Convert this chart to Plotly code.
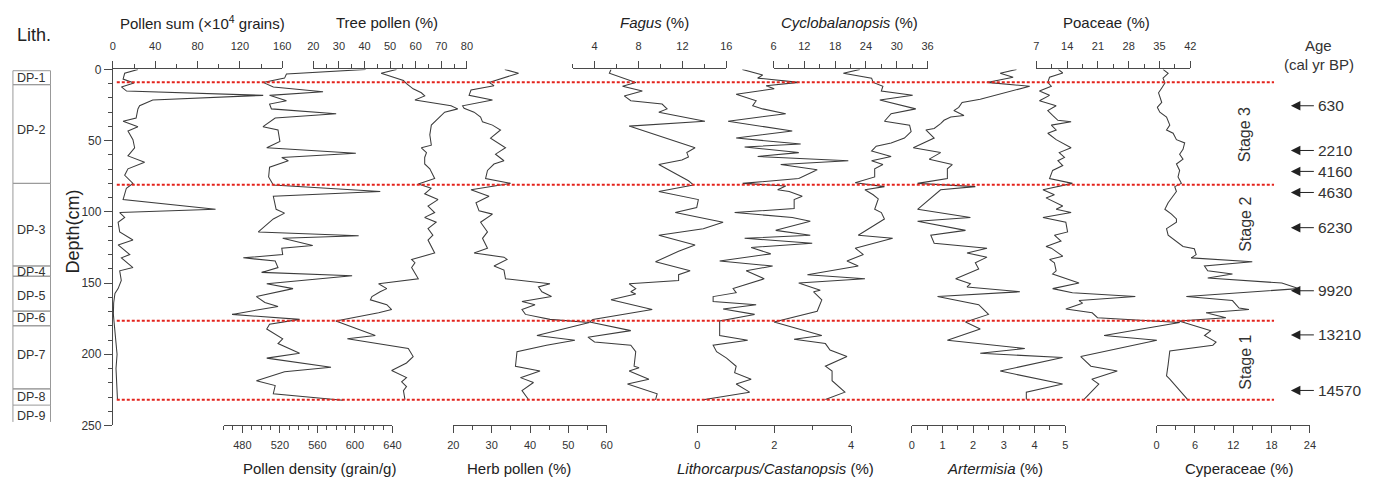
import plotly.graph_objects as go

# ---------------- data ----------------
ps_depth = [0, 2.7, 6.8, 9.5, 12.3, 15.2, 18.2, 21.4, 25.5, 27.7, 34.1, 36.4, 40.2, 43.2, 49.3, 55, 60.7, 65.2,
            69.8, 74.3, 80, 83.4, 91.4, 98.2, 100.5, 103.9, 107.3, 114.1, 119.8, 123.2, 130, 132.3, 139.1, 141.4,
            148.2, 153.9, 157.3, 164, 172, 180, 190, 200, 210, 220, 232]
ps_val = [23.7, 11.2, 9.7, 20, 8.1, 13, 142, 37.7, 25.3, 23.7, 22, 9.7, 23.7, 14.3, 19, 20.6, 14.3, 30,
          14.3, 11.2, 19, 12.8, 9.7, 97, 6.5, 11.2, 5, 6.5, 19, 5, 16, 8.1, 19, 6.5,
          8, 5, 2, 0.8, 0.5, 1.5, 2.5, 4, 3, 3.5, 4.4]

pd_depth = [0, 3.2, 6.1, 9.1, 12.3, 15.7, 18.2, 22, 24.3, 27.7, 31.1, 34.1, 40.2, 42.5, 50.5, 55, 58.9, 61.8,
            64.1, 68.6, 75.5, 81.1, 85.7, 89.1, 98.2, 100.9, 105, 114.1, 116.8, 118.6, 123.6, 125.5, 130,
            132.3, 134.5, 139.1, 142.5, 144.8, 150.5, 153.9, 159.5, 163.6, 166.4, 172, 175.5, 178.9, 182.3,
            189.1, 192.5, 199.3, 202.7, 209.1, 212.3, 218.6, 222, 227.7, 232.3]
pd_val = [611.5, 527, 525, 502, 513, 566, 509, 527, 509, 511, 580, 515, 502, 518, 520, 506, 601, 522,
          529, 509, 508, 513, 627, 513, 516, 525, 513, 497, 604, 523, 555, 522, 523,
          481, 515, 518, 500.5, 597, 506, 534, 495, 504, 518, 469, 541, 509, 506,
          523, 518, 541, 506, 574.5, 525, 495, 515, 513, 587]

tree_depth = [0, 2.7, 7.7, 10, 13.6, 16.4, 18.6, 21.4, 25.5, 27.7, 30, 34.5, 39.1, 45.9, 53.2, 55, 58.4, 61.8,
              66.4, 69.8, 76.6, 80.5, 83.4, 87.3, 91.4, 95.9, 100.5, 103.9, 107.3, 111.8, 116.4, 119.8, 124.3,
              128.9, 133.4, 135.7, 139.1, 143.6, 147, 150.5, 153.9, 156.1, 159.5, 161.8, 165.2, 168.6, 170.9,
              176.6, 186.8, 189.1, 195.9, 201.6, 206.1, 211.4, 216.4, 219.3, 222.7, 225.5, 231.8]
tree_val = [52.5, 46.5, 55.2, 56.4, 59, 62.2, 63.5, 59.7, 73.8, 76.4, 71.3, 68.7, 66.1, 65.5, 66.1, 62.2, 64.2, 63.5,
            63.5, 65.5, 67.4, 61, 66.1, 63.5, 68.7, 64.8, 67.4, 63.5, 68, 64.8, 66.7, 64.8, 66.1,
            67.4, 58.4, 59.7, 58.4, 59.7, 61, 45.5, 48.7, 46.1, 42.9, 42.3, 48.7, 50.6, 45.5,
            28.8, 44.2, 33.3, 57.1, 59, 56.4, 50.6, 56.4, 54.5, 56.4, 55.2, 55.8]

herb_depth = [0, 2.7, 9.1, 11.4, 14.5, 18.2, 21.4, 25.5, 27.3, 30, 33.4, 36.8, 39.1, 42.5, 48.2, 55, 59.5, 64.1,
              66.4, 70.9, 76.6, 80, 84.5, 89.1, 93.6, 99.3, 101.6, 107.3, 114.1, 118.6, 125.5, 128.9, 131.8,
              133.4, 138, 140.9, 147, 150.5, 152.7, 156.1, 159.5, 163, 165.2, 168.6, 172, 175.5, 177.7, 186.8,
              190.2, 193.6, 198.2, 208.4, 211.8, 216.4, 219.8, 225.5, 231.8]
herb_val = [33.4, 37, 29.3, 30.6, 24.6, 24.1, 30.2, 22.4, 22.8, 25.4, 27.1, 27.6, 30.2, 32.3, 29.7, 33.6, 31, 33.2,
            30.6, 28.9, 28.4, 34.9, 24.6, 29.3, 25.9, 26.7, 30.2, 27.1, 28.9, 27.6, 28.9, 25.4, 33.2,
            34, 30.6, 33.2, 33.6, 45.2, 42.2, 43.1, 45.6, 37.9, 41.3, 37.9, 38.8, 45.2, 55.5, 41.8,
            51.7, 44.3, 36.6, 36.2, 42.6, 37.5, 40.9, 37.9, 39.6]

fagus_depth = [0, 2.7, 9.1, 11.8, 15.2, 18.6, 22, 24.3, 27.7, 30, 36.4, 39.8, 55, 58.4, 61.4, 63.6, 66.8, 78.2,
               81.1, 85.7, 91.4, 97, 100.5, 107.3, 111.8, 116.4, 123.2, 127.7, 135, 141.4, 144.1, 148.2, 150.5,
               153.9, 156.1, 157.7, 161.8, 168.6, 175.5, 177.3, 183.4, 188, 191.4, 193.6, 198.2, 208.4, 209.5,
               211.8, 217.5, 220.9, 227.7, 232]
fagus_val = [5.5, 5.35, 7.75, 6.55, 8.35, 6.7, 7.3, 10.15, 10.6, 9.85, 14.05, 7.15, 13.15, 12.4, 12.55, 11.95, 9.85,
             12.55, 13, 9.85, 13.45, 13.3, 11.35, 15.7, 13.9, 9.85, 13.15, 11.65, 9.55, 12.7, 11.65, 11.65, 7.15,
             7.75, 7.3, 7.75, 5.5, 9.25, 3.85, 3.55, 7.3, 3.4, 4.0, 7.3, 7.75, 7.6, 8.05,
             7.15, 8.95, 7.0, 9.7, 9.55]

lith_depth = [0, 3.9, 6.1, 9.1, 11.4, 13.6, 17.5, 22, 25.5, 27.7, 31.1, 36.4, 43.2, 48.2, 52.3, 54.5, 58.4, 61.1,
              64.1, 66.8, 70.5, 76.6, 80, 81.8, 84.5, 85.7, 89.1, 91.4, 97.7, 100.5, 103.9, 106.6, 113, 116.4,
              118.6, 122, 125, 128.4, 129.5, 134.5, 138, 141.4, 144.8, 147, 153.9, 156.8, 159.5, 163, 165.2,
              168.2, 172, 176.6, 186.8, 190.2, 193.6, 198.2, 202.7, 208.4, 212.9, 217.5, 220.9, 226.6, 232]
lith_val = [1.17, 1.7, 1.57, 2.64, 1.79, 2.0, 1.01, 1.53, 1.44, 1.7, 2.3, 0.8, 2.47, 1.01, 2.69, 1.23, 2.64, 1.57,
            3.93, 2.17, 3.12, 2.64, 1.18, 2.3, 2.09, 2.39, 2.73, 2.52, 2.52, 0.97, 2.47, 2.94, 2.04, 2.94,
            1.23, 2.99, 1.4, 1.83, 1.91, 0.58, 1.96, 1.27, 1.57, 1.74, 0.93, 1.01, 0.41, 0.41, 1.53,
            0.67, 1.49, 0.58, 0.58, 1.31, 0.41, 0.5, 0.76, 1.01, 0.97, 1.4, 1.01, 1.36, 0.15]

cyclo_depth = [0, 2.7, 6.1, 9.1, 11.8, 15.2, 18.2, 21.4, 27.7, 31.1, 36.4, 39.1, 43.6, 48.2, 51.6, 53.9, 57.3, 61.1,
               64.1, 66.8, 69.8, 75.5, 79.5, 82.3, 84.5, 88, 90.9, 98.2, 100.5, 105, 116.4, 118.6, 125.5, 130,
               134.5, 138, 144.1, 147, 150, 155, 156.1, 161.8, 169.8, 177.3, 186.8, 189.5, 192.5, 197, 201.6,
               208.4, 211.8, 218.6, 226.6, 231.8]
cyclo_val = [22.8, 19.6, 25.1, 25.4, 27.3, 27, 33.1, 26.7, 33.7, 28.9, 27.6, 32.5, 32.8, 31.5, 28.9, 26, 25.1, 28.9,
             25.1, 27.3, 25.7, 25.7, 21.9, 27.6, 23.8, 25.4, 26.4, 25.7, 27, 27.6, 22.5, 29.2, 21.9, 23.5,
             20.3, 22.5, 12.6, 23.8, 10.9, 15.1, 13.8, 15.4, 14.5, 6.1, 15.4, 10, 16.1, 17, 20.3,
             16.1, 17.4, 17.4, 19.9, 16.1]

art_depth = [0, 2.7, 5.5, 9.1, 11.8, 20.9, 23.2, 26.6, 28.9, 32.3, 33.4, 35.7, 38, 41.4, 42.5, 48.2, 55, 58.4, 63,
             66.8, 69.8, 76.6, 80, 82.3, 84.5, 98.2, 103.9, 106.6, 113, 116.4, 122, 125.5, 128.9, 131.8, 135.7,
             140.2, 147, 150.5, 152.7, 156.1, 159.5, 165.2, 172, 177.3, 182.3, 190.2, 195.9, 199.3, 202.3,
             211.8, 220.9, 226.6, 231.8]
art_val = [3.41, 2.88, 3.3, 2.45, 3.84, 2.23, 1.64, 1.53, 1.37, 1.7, 1.27, 1.05, 0.94, 0.73, 0.46, 0.73, 0.05, 0.94,
           0.57, 1.32, 1.16, 1.16, 0.19, 2.07, 0.94, 0.19, 1.91, 0.19, 1.75, 0.62, 0.73, 2.45, 1.8, 2.45, 2.07,
           2.18, 1.43, 1.91, 1.8, 3.52, 0.84, 2.18, 2.5, 1.75, 2.23, 1.16, 3.68, 2.23, 4.91,
           2.88, 4.91, 3.73, 3.73]

poa_depth = [0, 2.5, 5.5, 9.1, 11.8, 15.2, 18.2, 22, 25.5, 28.9, 32.3, 35.7, 36.8, 39.1, 42.5, 44.8, 49.3, 55, 58.4,
             61.8, 64.1, 67.5, 70.9, 76.6, 80, 84.5, 88, 90.2, 95.9, 98.2, 100.5, 103.9, 107.3, 114.1, 116.4,
             120.5, 124.3, 125.5, 131.1, 133.4, 135.7, 141.4, 143.6, 147, 150, 153.9, 156.8, 159.5, 162.3,
             164.1, 168.2, 170.9, 174.3, 177.7, 186.8, 190.2, 201.6, 208.4, 211.8, 217.5, 220.9, 231.5]
poa_val = [12, 13, 10, 9.6, 10.4, 7.7, 10, 7.7, 11.5, 9.6, 10.7, 11.9, 14.9, 10.4, 11.5, 9.6, 11.5, 14.9, 12.2,
           13.4, 11.9, 13, 10.7, 10, 15.2, 8.5, 11.1, 9.2, 13, 11.5, 14.9, 8.5, 13.7, 14.1, 11.1,
           12.6, 9.2, 10.4, 13, 10, 11.1, 11.5, 10.7, 13.7, 16.7, 10.7, 15.2, 29.5, 16.7,
           17.5, 13.7, 19.7, 20.9, 39.6, 22.4, 34.4, 17.1, 19.4, 25.4, 19.6, 21.2, 17.9]

cyp_depth = [0, 2.7, 6.1, 9.5, 13, 16.4, 23.2, 26.6, 30, 33.4, 39.1, 42.5, 44.8, 49.3, 51.6, 56.1, 59.5, 63, 66.4,
             70.9, 75.5, 80, 82.3, 85.7, 93.6, 98.2, 101.6, 105, 107.3, 111.8, 116.4, 120.9, 124.3, 125.9, 130,
             132.3, 135, 138, 141.4, 143.6, 146.4, 150, 153.9, 159.5, 162.3, 167.5, 168.6, 170.9, 174.3, 176.6,
             183.4, 186.8, 191.4, 193.6, 197.7, 207.3, 215.2, 217.5, 225, 232]
cyp_val = [1.0, 1.8, 1.0, 1.3, 0.8, 0.3, 0.8, 0.1, 0.5, 1.55, 2.06, 1.55, 2.58, 3.1, 4.39, 4.13, 3.6, 4.13, 3.1,
           3.6, 3.35, 3.87, 2.84, 3.1, 1.8, 1.29, 2.32, 3.1, 3.1, 1.55, 1.8, 3.1, 4.13, 5.9, 6.19,
           5.42, 14.97, 7.48, 8, 11.87, 8, 19.6, 22.2, 4.65, 11.87, 12.9, 14.45, 7.74, 10.84, 3.5,
           8.5, 7.5, 9.3, 8.8, 2.06, 1.8, 1.55, 2.06, 3.5, 4.9]

stage_bounds = [9, 81, 176.5, 232]
stage_names = ["Stage 3", "Stage 2", "Stage 1"]

lith_names = ["DP-1", "DP-2", "DP-3", "DP-4", "DP-5", "DP-6", "DP-7", "DP-8", "DP-9"]
lith_tops = [0.9, 10.7, 80, 138, 145.2, 169.7, 180, 224.3, 235.7]
lith_bottoms = [10.7, 80, 138, 145.2, 169.7, 180, 224.3, 235.7, 247.5]
lith_label_depth = [5.8, 42.5, 113, 142, 159, 174.8, 200.4, 230, 243]

ages = ["630", "2210", "4160", "4630", "6230", "9920", "13210", "14570"]
age_depth = [25.5, 56.9, 71.6, 86.4, 111.1, 155.4, 186.4, 225.4]

# ---------------- layout helpers ----------------
W, H = 1378, 482
FONT = "Liberation Sans, Arial, sans-serif"
CURVE = "#3c3c3c"
AX = "#4a4a4a"


def px(x):
    return x / W


def py(y):
    return 1 - y / H


Y_TOP, Y_BOT = 64.3, 431.0

# panel: depths, values, side, x0px, x1px, range, dtick, minor dtick, title, title centre x
panels = [
    (ps_depth, ps_val, "top", 108, 279.3, [0, 160], 40, 20, "Pollen sum (\u00d710<sup>4</sup> grains)", 199),
    (pd_depth, pd_val, "bottom", 220, 390.7, [460, 640], 40, 10, "Pollen density (grain/g)", 317),
    (tree_depth, tree_val, "top", 310.7, 466, [20, 80], 10, 5, "Tree pollen (%)", 385),
    (herb_depth, herb_val, "bottom", 452.3, 607.3, [20, 60], 10, 5, "Herb pollen (%)", 519),
    (fagus_depth, fagus_val, "top", 572.8, 728.3, [2, 16], 4, 2, "<i>Fagus</i> (%)", 656),
    (lith_depth, lith_val, "bottom", 699, 854.3, [0, 4], 2, 1, "<i>Lithorcarpus/Castanopsis</i> (%)", 778),
    (cyclo_depth, cyclo_val, "top", 776, 931.7, [6, 36], 6, 3, "<i>Cyclobalanopsis</i> (%)", 853),
    (art_depth, art_val, "bottom", 915.7, 1071, [0, 5], 1, 0.5, "<i>Artermisia</i> (%)", 1000),
    (poa_depth, poa_val, "top", 1041.7, 1197.3, [7, 42], 7, 3.5, "Poaceae (%)", 1113),
    (cyp_depth, cyp_val, "bottom", 1163.3, 1318.3, [0, 24], 6, 3, "Cyperaceae (%)", 1247),
]

fig = go.Figure()
layout = dict(
    width=W, height=H, autosize=False,
    margin=dict(l=0, r=0, t=0, b=0, pad=0),
    paper_bgcolor="white", plot_bgcolor="rgba(0,0,0,0)",
    showlegend=False, hovermode=False,
    font=dict(family=FONT, color="#333"),
)
annotations = []
shapes = []

for i, (dep, val, side, x0, x1, rng, dt, mdt, title, tcx) in enumerate(panels, start=1):
    key = "xaxis" if i == 1 else f"xaxis{i}"
    ref = "x" if i == 1 else f"x{i}"
    fig.add_trace(go.Scatter(x=val, y=dep, xaxis=ref, yaxis="y", mode="lines",
                             line=dict(color=CURVE, width=1.05), hoverinfo="skip"))
    layout[key] = dict(
        domain=[px(x0), px(x1)], range=rng, anchor="y", side=side,
        showline=True, linecolor=AX, linewidth=1,
        ticks="outside", ticklen=7, tickwidth=1, tickcolor=AX,
        tick0=0, dtick=dt,
        minor=dict(dtick=mdt, tick0=0, ticks="outside", ticklen=4, tickwidth=1, tickcolor=AX),
        tickfont=dict(size=11, color="#333", family=FONT),
        ticklabelstandoff=7 if side == "top" else 2,
        showgrid=False, zeroline=False, fixedrange=True,
    )
    ty = 16 if side == "top" else 475
    annotations.append(dict(text=title, x=px(tcx), y=py(ty), xref="paper", yref="paper",
                            xanchor="center", yanchor="middle", showarrow=False,
                            font=dict(size=15, color="#222", family=FONT)))

layout["yaxis"] = dict(
    domain=[py(Y_BOT), py(Y_TOP)], range=[250, 0], anchor="x",
    showline=True, linecolor=AX, linewidth=1,
    ticks="outside", ticklen=8, tickwidth=1, tickcolor=AX,
    tick0=0, dtick=50,
    minor=dict(dtick=10, tick0=0, ticks="outside", ticklen=4, tickwidth=1, tickcolor=AX),
    tickfont=dict(size=12, color="#333", family=FONT),
    showgrid=False, zeroline=False, fixedrange=True,
)

# depth title
annotations.append(dict(text="Depth(cm)", x=px(68), y=py(231), xref="paper", yref="paper",
                        textangle=-90, showarrow=False, xanchor="center", yanchor="middle",
                        font=dict(size=18, color="#222", family=FONT)))
annotations.append(dict(text="Lith.", x=px(9), y=py(29), xref="paper", yref="paper",
                        showarrow=False, xanchor="left", yanchor="middle",
                        font=dict(size=18, color="#222", family=FONT)))

# lithology column
for name, top, bot, ld in zip(lith_names, lith_tops, lith_bottoms, lith_label_depth):
    if name == "DP-9":
        for xx in (7, 45):
            shapes.append(dict(type="line", xref="paper", yref="y", x0=px(xx), x1=px(xx), y0=top, y1=bot,
                               line=dict(color="#999", width=1)))
    else:
        shapes.append(dict(type="rect", xref="paper", yref="y", x0=px(7), x1=px(45), y0=top, y1=bot,
                           line=dict(color="#999", width=1), fillcolor="rgba(0,0,0,0)"))
    annotations.append(dict(text=name, x=px(26), y=ld, xref="paper", yref="y", showarrow=False,
                            xanchor="center", yanchor="middle",
                            font=dict(size=12.5, color="#333", family=FONT)))

# stage boundaries
for d in stage_bounds:
    shapes.append(dict(type="line", xref="paper", yref="y", x0=px(112), x1=px(1282), y0=d, y1=d,
                       line=dict(color="#e3231c", width=2, dash="3px,2px"), layer="above"))

# stage labels (between boundaries)
stage_centre_px = [131.7, 224, 366]
for name, cy in zip(stage_names, stage_centre_px):
    annotations.append(dict(text=name, x=px(1253), y=py(cy), xref="paper", yref="paper",
                            textangle=-90, showarrow=False, xanchor="center", yanchor="middle",
                            font=dict(size=16, color="#333", family=FONT)))

# ages
annotations.append(dict(text="Age", x=px(1327), y=py(40), xref="paper", yref="paper", showarrow=False,
                        xanchor="center", yanchor="middle", font=dict(size=15, color="#333", family=FONT)))
annotations.append(dict(text="(cal yr BP)", x=px(1327), y=py(59), xref="paper", yref="paper", showarrow=False,
                        xanchor="center", yanchor="middle", font=dict(size=15, color="#333", family=FONT)))
for a, d in zip(ages, age_depth):
    annotations.append(dict(text=a, x=px(1299), y=d, xref="paper", yref="y", showarrow=True,
                            ax=23, ay=0, xanchor="left", yanchor="middle", borderpad=4, borderwidth=0,
                            arrowhead=2, arrowsize=1.9, arrowwidth=1, arrowcolor="#222",
                            font=dict(size=15.5, color="#333", family=FONT)))

layout["annotations"] = annotations
layout["shapes"] = shapes
fig.update_layout(**layout)
fig.write_html("out.html", config={"displayModeBar": False, "staticPlot": True})
